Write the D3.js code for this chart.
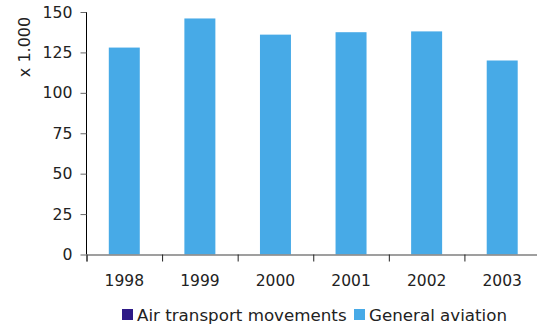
<!DOCTYPE html>
<html>
<head>
<meta charset="utf-8">
<script src="https://cdn.jsdelivr.net/npm/d3@7"></script>
<style>
  html, body { margin: 0; padding: 0; background: #fff; }
  svg { display: block; font-family: "DejaVu Sans", Verdana, sans-serif; }
</style>
</head>
<body>
<svg id="chart" width="537" height="327"></svg>
<script>
// Aircraft movements per year, in thousands
const years = ["1998", "1999", "2000", "2001", "2002", "2003"];
const airTransport = [0, 0, 0, 0, 0, 0];
const generalAviation = [128, 146, 136, 137.5, 138, 120];
const yTicks = [0, 25, 50, 75, 100, 125, 150];
const seriesNames = ["Air transport movements", "General aviation"];
const seriesColors = ["#2E1A87", "#47AAE7"];

const svg = d3.select("#chart");
const plotLeft = 86.5, plotRight = 540, plotTop = 12, plotBottom = 254.5;

const x = d3.scaleBand().domain(years).range([plotLeft, plotRight])
  .paddingInner(0.59).paddingOuter(0.295);
const xEdge = d3.scaleLinear().domain([0, years.length]).range([plotLeft, plotRight]);
const y = d3.scaleLinear().domain([0, 150]).range([plotBottom, plotTop]);

// Stack the two series
const rows = years.map((yr, i) => ({ year: yr, air: airTransport[i], ga: generalAviation[i] }));
const stacked = d3.stack().keys(["air", "ga"])(rows);

svg.append("g").selectAll("g")
  .data(stacked)
  .join("g")
  .attr("fill", (d, i) => seriesColors[i])
  .selectAll("rect")
  .data(d => d)
  .join("rect")
  .attr("x", d => x(d.data.year))
  .attr("width", x.bandwidth())
  .attr("y", d => y(d[1]))
  .attr("height", d => y(d[0]) - y(d[1]));

// Y axis
const yAxis = svg.append("g")
  .attr("transform", `translate(${plotLeft},0)`)
  .call(d3.axisLeft(y).tickValues(yTicks).tickSize(6).tickPadding(8).tickFormat(d3.format("d")));
yAxis.select(".domain").attr("stroke", "#000").attr("d", `M0,${plotTop}V${plotBottom}`);
yAxis.selectAll(".tick line").attr("stroke", "#666");
yAxis.selectAll(".tick text").attr("font-size", "15.7px").attr("fill", "#222")
  .attr("font-family", "DejaVu Sans, Verdana, sans-serif");

// X axis: tick marks at category boundaries, labels centred under bars
const xTicks = svg.append("g")
  .attr("transform", `translate(0,${plotBottom})`)
  .call(d3.axisBottom(xEdge).tickValues(d3.range(years.length + 1)).tickSize(7).tickFormat(""));
xTicks.select(".domain").attr("stroke", "#808080").attr("stroke-width", 1.5);
xTicks.selectAll(".tick line").attr("stroke", "#222");

const xLabels = svg.append("g")
  .attr("transform", `translate(0,${plotBottom})`)
  .call(d3.axisBottom(x).tickSize(0).tickPadding(20));
xLabels.select(".domain").remove();
xLabels.selectAll(".tick text").attr("font-size", "15.5px").attr("fill", "#222")
  .attr("font-family", "DejaVu Sans, Verdana, sans-serif");

// Y axis title
svg.append("text")
  .attr("transform", "translate(30,47) rotate(-90)")
  .attr("text-anchor", "middle")
  .attr("font-size", "16px")
  .attr("fill", "#222")
  .text("x 1.000");

// Legend
const legendX = [122, 354];
const legend = svg.append("g").selectAll("g")
  .data(seriesNames)
  .join("g")
  .attr("transform", (d, i) => `translate(${legendX[i]},309)`);
legend.append("rect").attr("width", 11).attr("height", 11)
  .attr("fill", (d, i) => seriesColors[i]);
legend.append("text").attr("x", 15).attr("y", 11.5)
  .attr("font-size", "16.7px").attr("fill", "#222")
  .text(d => d);
</script>
</body>
</html>
